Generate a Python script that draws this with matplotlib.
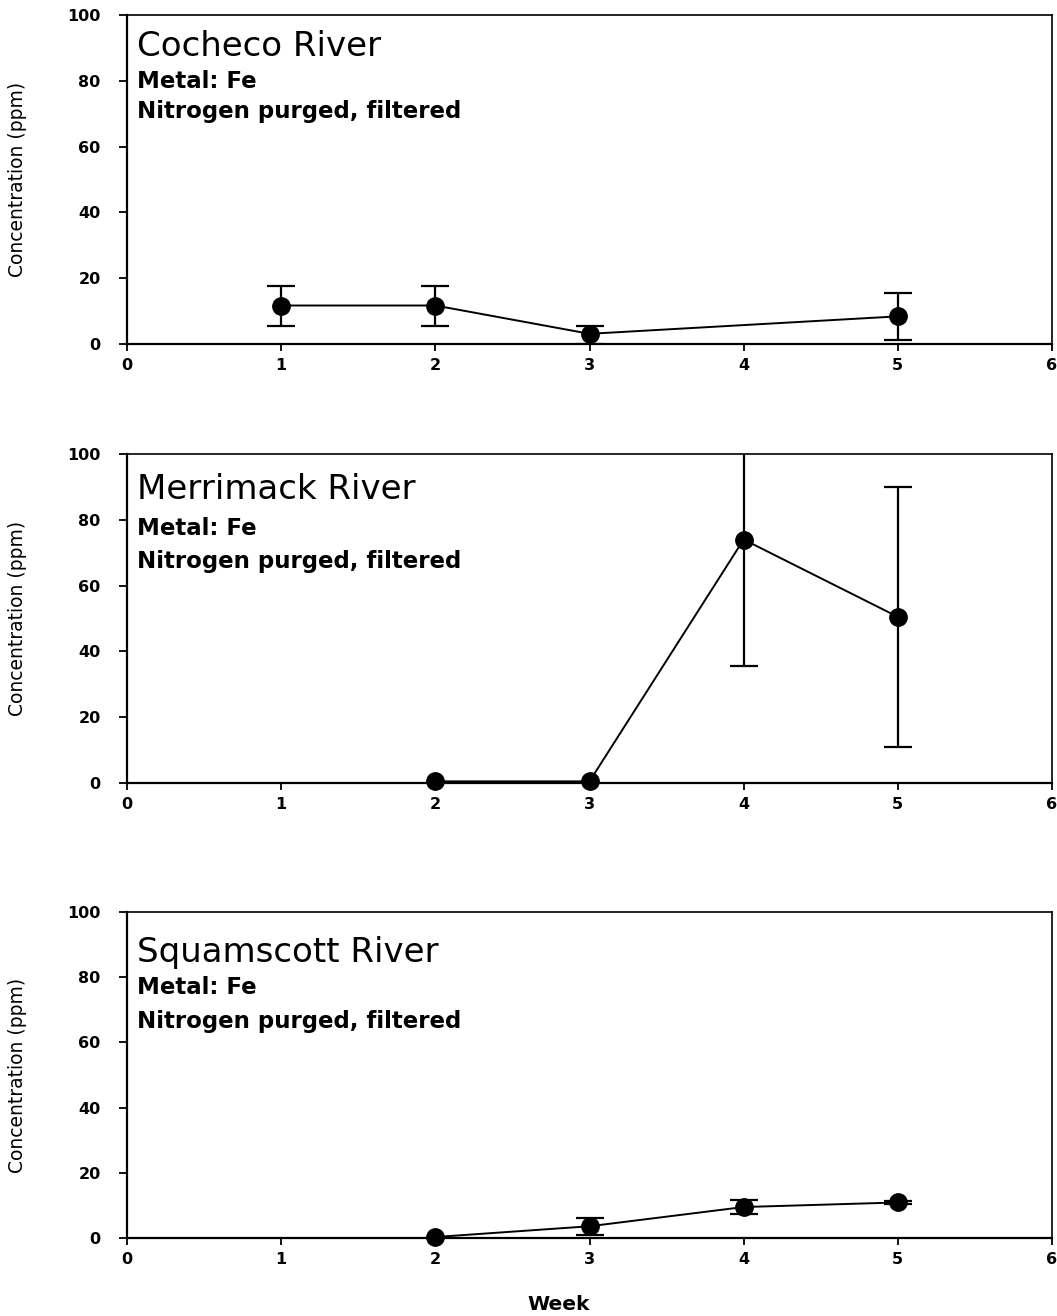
import matplotlib
matplotlib.use("Agg")
import matplotlib.pyplot as plt
import numpy as np

# ---- data ----
rivers = ["Cocheco River", "Merrimack River", "Squamscott River"]
metal_label = "Metal: Fe"
treatment_label = "Nitrogen purged, filtered"

cocheco_week = [1, 2, 3, 5]
cocheco_conc = [11.7, 11.7, 3.1, 8.4]
cocheco_upper = [17.5, 17.5, 5.4, 15.5]
cocheco_lower = [5.4, 5.4, 0.0, 1.2]

merrimack_week = [2, 3, 4, 5]
merrimack_conc = [0.5, 0.5, 74.0, 50.5]
merrimack_upper = [0.5, 0.5, 112.0, 90.0]
merrimack_lower = [0.5, 0.5, 35.6, 11.0]

squamscott_week = [2, 3, 4, 5]
squamscott_conc = [0.3, 3.6, 9.5, 10.9]
squamscott_upper = [0.3, 6.2, 11.6, 11.4]
squamscott_lower = [0.3, 1.0, 7.5, 10.4]

x_ticks = [0, 1, 2, 3, 4, 5, 6]
y_ticks = [0, 20, 40, 60, 80, 100]

series = [
    (cocheco_week, cocheco_conc, cocheco_upper, cocheco_lower),
    (merrimack_week, merrimack_conc, merrimack_upper, merrimack_lower),
    (squamscott_week, squamscott_conc, squamscott_upper, squamscott_lower),
]

# ---- layout ----
W, H = 1057, 1316
fig = plt.figure(figsize=(W / 100, H / 100), dpi=100)
panels_px = [(15, 344), (454, 783), (912, 1238)]  # (top, bottom) in pixels
text_offsets = [(41, 73, 103), (45, 81, 114), (50, 82, 116)]
left_px, right_px = 127, 1052

for i, ((top, bot), (wk, c, up, lo)) in enumerate(zip(panels_px, series)):
    ax = fig.add_axes([left_px / W, 1 - bot / H, (right_px - left_px) / W, (bot - top) / H])
    wk = np.array(wk)
    c = np.array(c)
    up = np.array(up)
    lo = np.array(lo)
    has_err = (up - lo) > 0
    yerr = np.vstack([c[has_err] - lo[has_err], up[has_err] - c[has_err]])
    ax.errorbar(wk[has_err], c[has_err], yerr=yerr, fmt='none', ecolor='black',
                elinewidth=1.6, capsize=10, capthick=1.6, zorder=2)
    ax.plot(wk, c, '-o', color='black', ms=12.5, lw=1.4, zorder=3, clip_on=False)
    ax.set_xlim(0, 6)
    ax.set_ylim(0, 100)
    ax.set_xticks(x_ticks)
    ax.set_yticks(y_ticks)
    ax.set_xticklabels([str(t) for t in x_ticks], fontfamily='DejaVu Sans',
                       fontweight='bold', fontsize=11.5)
    ax.set_yticklabels([str(t) for t in y_ticks], fontfamily='DejaVu Sans',
                       fontweight='bold', fontsize=11.5)
    ax.tick_params(axis='y', direction='out', length=6, width=1.3, pad=13)
    ax.tick_params(axis='x', direction='out', length=5, width=1.3, pad=5)
    for s in ['left', 'bottom']:
        ax.spines[s].set_linewidth(1.6)
    for s in ['top', 'right']:
        ax.spines[s].set_linewidth(1.2)
    ax.set_ylabel("Concentration (ppm)", fontfamily='DejaVu Sans', fontsize=13.5)
    ax.yaxis.set_label_coords((8 - left_px) / (right_px - left_px), 0.5)
    ax.yaxis.label.set_va('top')

    h = bot - top
    tx = 10 / (right_px - left_px)
    t1, t2, t3 = text_offsets[i]
    ax.text(tx, 1 - t1 / h, rivers[i], transform=ax.transAxes, fontsize=24.5,
            fontfamily='DejaVu Sans', va='baseline', ha='left')
    ax.text(tx, 1 - t2 / h, metal_label, transform=ax.transAxes, fontsize=16.5,
            fontfamily='DejaVu Sans', fontweight='bold', va='baseline', ha='left')
    ax.text(tx, 1 - t3 / h, treatment_label, transform=ax.transAxes, fontsize=16.5,
            fontfamily='DejaVu Sans', fontweight='bold', va='baseline', ha='left')

fig.text(559 / W, 1 - 1304 / H, "Week", fontsize=14.5, fontfamily='DejaVu Sans',
         fontweight='bold', ha='center', va='center')

fig.savefig("out.png", dpi=100)
